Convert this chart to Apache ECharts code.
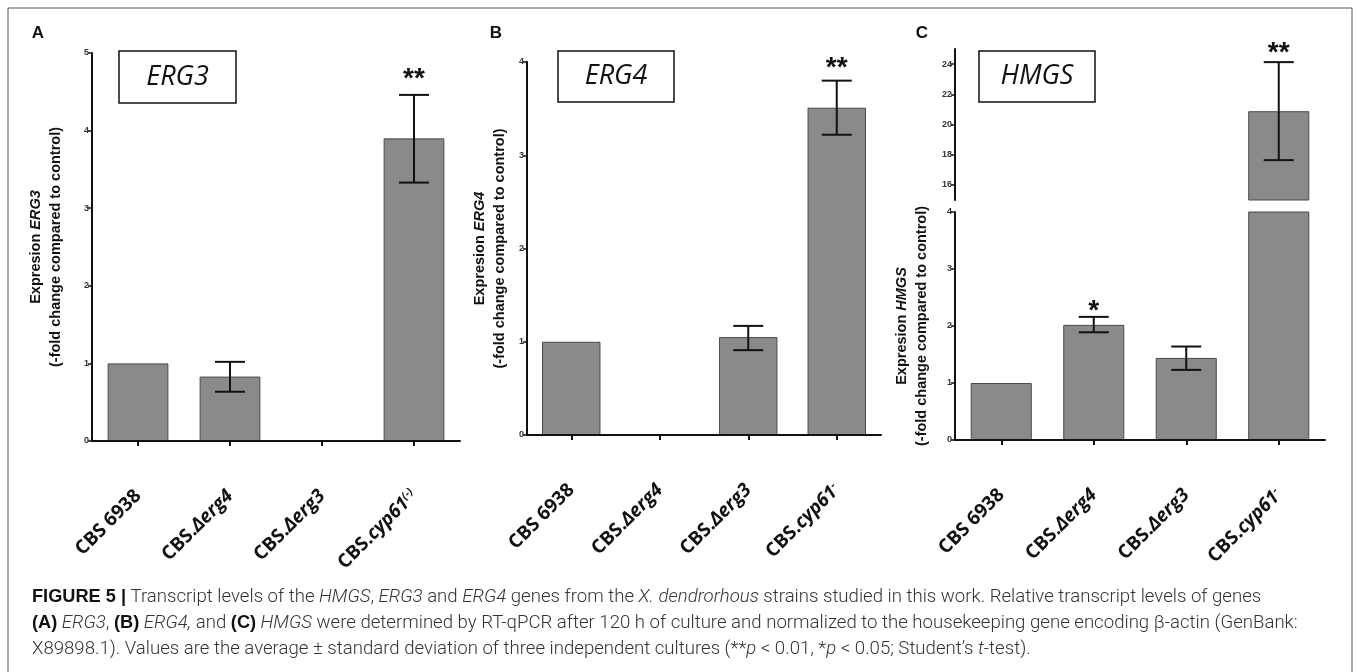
<!DOCTYPE html>
<html><head><meta charset="utf-8">
<script src="https://cdn.jsdelivr.net/npm/echarts@6/dist/echarts.min.js"></script>
<style>html,body{margin:0;padding:0;background:#fff;}#c{width:1357px;height:672px;}</style>
</head><body><div id="c"></div>
<script>
// ---------- data ----------
const categoriesA = ['CBS 6938', 'CBS.Δerg4', 'CBS.Δerg3', 'CBS.cyp61(-)'];
const categoriesBC = ['CBS 6938', 'CBS.Δerg4', 'CBS.Δerg3', 'CBS.cyp61-'];

const erg3Mean = [1.00, 0.83, 0, 3.90];
const erg3Low  = [null, 0.635, null, 3.33];
const erg3High = [null, 1.02, null, 4.46];
const erg3Sig  = ['', '', '', '**'];

const erg4Mean = [1.00, 0, 1.05, 3.51];
const erg4Low  = [null, null, 0.91, 3.22];
const erg4High = [null, null, 1.17, 3.80];
const erg4Sig  = ['', '', '', '**'];

const hmgsMean = [1.00, 2.02, 1.44, 20.88];
const hmgsLow  = [null, 1.89, 1.23, 17.64];
const hmgsHigh = [null, 2.16, 1.64, 24.13];
const hmgsSig  = ['', '*', '', '**'];

const erg3Range = [0, 5];
const erg4Range = [0, 4];
const hmgsLowerRange = [0, 4];
const hmgsUpperRange = [15, 25];
const hmgsUpperTicks = [16, 18, 20, 22, 24];

// ---------- helpers ----------
const AX = '#111';
function fmtLabel(v) {
  if (v.indexOf('CBS.') !== 0) return '{n|' + v + '}';
  let rest = v.slice(4), sup = '';
  const m = rest.match(/(\(-\)|-)$/);
  if (m) { sup = m[1]; rest = rest.slice(0, rest.length - sup.length); }
  return '{n|CBS.}{i|' + rest + '}' + (sup ? '{s|' + sup + '}' : '');
}
const labelRich = {
  n: {fontFamily: 'Open Sans', fontWeight: 'bold', fontSize: 19, color: '#111'},
  i: {fontFamily: 'Open Sans', fontWeight: 'bold', fontStyle: 'italic', fontSize: 19, color: '#111'},
  s: {fontFamily: 'Open Sans', fontWeight: 'bold', fontStyle: 'italic', fontSize: 11, color: '#111', verticalAlign: 'top'}
};
const nameRich = {
  b: {fontFamily: 'Liberation Sans', fontWeight: 'bold', fontSize: 14.5, color: '#111', lineHeight: 20},
  bi: {fontFamily: 'Liberation Sans', fontWeight: 'bold', fontStyle: 'italic', fontSize: 14.5, color: '#111', lineHeight: 20}
};

const grids = [], xAxes = [], yAxes = [], series = [];

function panel(o) {
  const k = grids.length;
  grids.push({left: o.left, top: o.top, width: o.width, height: o.height, containLabel: false});
  xAxes.push({
    gridIndex: k, type: 'category', data: o.cats, show: o.showX !== false,
    boundaryGap: true, z: 3,
    axisLine: {show: o.showX !== false, lineStyle: {color: AX, width: 2}},
    axisTick: {show: true, alignWithLabel: true, length: 5, lineStyle: {color: AX, width: 2}},
    axisLabel: {show: o.showX !== false, interval: 0, rotate: 45, margin: 52,
      formatter: fmtLabel, rich: labelRich}
  });
  const y = {
    gridIndex: k, type: 'value', min: o.range[0], max: o.range[1], z: 3,
    axisLine: {show: true, lineStyle: {color: AX, width: 2}},
    axisTick: {show: true, length: 4, lineStyle: {color: AX, width: 1.5}},
    splitLine: {show: false},
    axisLabel: {fontFamily: 'Liberation Sans', fontWeight: 'bold', fontSize: 9, color: '#333', margin: 3}
  };
  if (o.customTicks) {
    y.axisTick.customValues = o.customTicks;
    y.axisLabel.customValues = o.customTicks;
  } else {
    y.interval = 1;
  }
  if (o.name) {
    y.name = o.name; y.nameLocation = 'middle'; y.nameRotate = 90; y.nameGap = o.nameGap;
    y.nameTextStyle = {rich: nameRich};
  }
  yAxes.push(y);
  series.push({
    type: 'bar', xAxisIndex: k, yAxisIndex: k, barWidth: '66%', clip: true, z: 2,
    data: o.values.map(v => (v >= o.range[0] ? v : '-')),
    itemStyle: {color: '#8a8a8a', borderColor: '#4a4a4a', borderWidth: 1},
    silent: true, animation: false
  });
  const lows = o.low, highs = o.high, sig = o.sig, gap = o.sigGap;
  const items = [];
  o.values.forEach((v, i) => {
    if (lows[i] != null && lows[i] >= o.range[0] && highs[i] <= o.range[1]) items.push([i, highs[i]]);
  });
  series.push({
    type: 'custom', xAxisIndex: k, yAxisIndex: k, data: items, animation: false, silent: true, z: 6,
    renderItem: function (params, api) {
      const i = api.value(0);
      const pH = api.coord([i, highs[i]]);
      const pL = api.coord([i, lows[i]]);
      const w = 15;
      const st = {stroke: '#111', lineWidth: 2};
      const ch = [
        {type: 'line', shape: {x1: pH[0], y1: pH[1], x2: pL[0], y2: pL[1]}, style: st},
        {type: 'line', shape: {x1: pH[0] - w, y1: pH[1], x2: pH[0] + w, y2: pH[1]}, style: st},
        {type: 'line', shape: {x1: pL[0] - w, y1: pL[1], x2: pL[0] + w, y2: pL[1]}, style: st}
      ];
      if (sig[i]) ch.push({type: 'text', style: {text: sig[i], x: pH[0], y: pH[1] - gap,
        align: 'center', verticalAlign: 'bottom', font: 'bold 28px "Liberation Sans"', fill: '#111'}});
      return {type: 'group', children: ch};
    }
  });
}

panel({left: 92, top: 53, width: 368, height: 388, cats: categoriesA, values: erg3Mean,
  low: erg3Low, high: erg3High, sig: erg3Sig, sigGap: 2, range: erg3Range,
  name: '{b|Expresion }{bi|ERG3}\n{b|(-fold change compared to control)}', nameGap: 26});
panel({left: 527, top: 62, width: 354, height: 373, cats: categoriesBC, values: erg4Mean,
  low: erg4Low, high: erg4High, sig: erg4Sig, sigGap: -2, range: erg4Range,
  name: '{b|Expresion }{bi|ERG4}\n{b|(-fold change compared to control)}', nameGap: 17});
panel({left: 955, top: 212, width: 370, height: 228, cats: categoriesBC, values: hmgsMean,
  low: hmgsLow, high: hmgsHigh, sig: hmgsSig, sigGap: -8, range: hmgsLowerRange,
  name: '{b|Expresion }{bi|HMGS}\n{b|(-fold change compared to control)}', nameGap: 23});
panel({left: 955, top: 49, width: 370, height: 151, cats: categoriesBC, values: hmgsMean,
  low: hmgsLow, high: hmgsHigh, sig: hmgsSig, sigGap: -5, range: hmgsUpperRange,
  customTicks: hmgsUpperTicks, showX: false});

// ---------- decorations ----------
function titleBox(x, y, w, h, txt) {
  return [
    {type: 'rect', shape: {x: x, y: y, width: w, height: h}, style: {fill: '#fff', stroke: '#111', lineWidth: 1.5}, z: 10},
    {type: 'text', x: x + w / 2, y: y + h / 2, style: {text: txt, align: 'center', verticalAlign: 'middle',
      font: 'italic 27px "Open Sans"', fill: '#111'}, z: 11}
  ];
}
function letter(x, y, t) {
  return {type: 'text', x: x, y: y, style: {text: t, font: 'bold 17px "Liberation Sans"', fill: '#111',
    align: 'center', verticalAlign: 'middle'}, z: 11};
}
const capRich = {
  B: {fontFamily: 'Liberation Sans', fontWeight: 'bold', fontSize: 18.2, fill: '#111'},
  I: {fontFamily: 'Roboto', fontStyle: 'italic', fontWeight: 300, fontSize: 18.6, fill: '#333'}
};
function capLine(y, t) {
  return {type: 'text', x: 32, y: y, style: {text: t, rich: capRich, font: '300 18.6px Roboto', fill: '#333',
    verticalAlign: 'middle'}, z: 11};
}

const graphic = [
  {type: 'rect', shape: {x: 8, y: 8, width: 1344, height: 700}, style: {fill: 'none', stroke: '#555', lineWidth: 1}, z: 1},
  letter(38, 33, 'A'), letter(496, 33, 'B'), letter(922, 33, 'C'),
  ...titleBox(119, 51, 117, 52, 'ERG3'),
  ...titleBox(558, 51, 116, 51, 'ERG4'),
  ...titleBox(979, 51, 116, 51, 'HMGS'),
  capLine(597, '{B|FIGURE 5 |} Transcript levels of the {I|HMGS}, {I|ERG3} and {I|ERG4} genes from the {I|X. dendrorhous} strains studied in this work. Relative transcript levels of genes'),
  capLine(623, '{B|(A)} {I|ERG3}, {B|(B)} {I|ERG4,} and {B|(C)} {I|HMGS} were determined by RT-qPCR after 120 h of culture and normalized to the housekeeping gene encoding β-actin (GenBank:'),
  capLine(649, 'X89898.1). Values are the average ± standard deviation of three independent cultures (**{I|p} < 0.01, *{I|p} < 0.05; Student’s {I|t}-test).')
];

const chart = echarts.init(document.getElementById('c'), null, {renderer: 'canvas'});
chart.setOption({
  animation: false,
  backgroundColor: '#fff',
  grid: grids, xAxis: xAxes, yAxis: yAxes, series: series, graphic: graphic
});
</script></body></html>
